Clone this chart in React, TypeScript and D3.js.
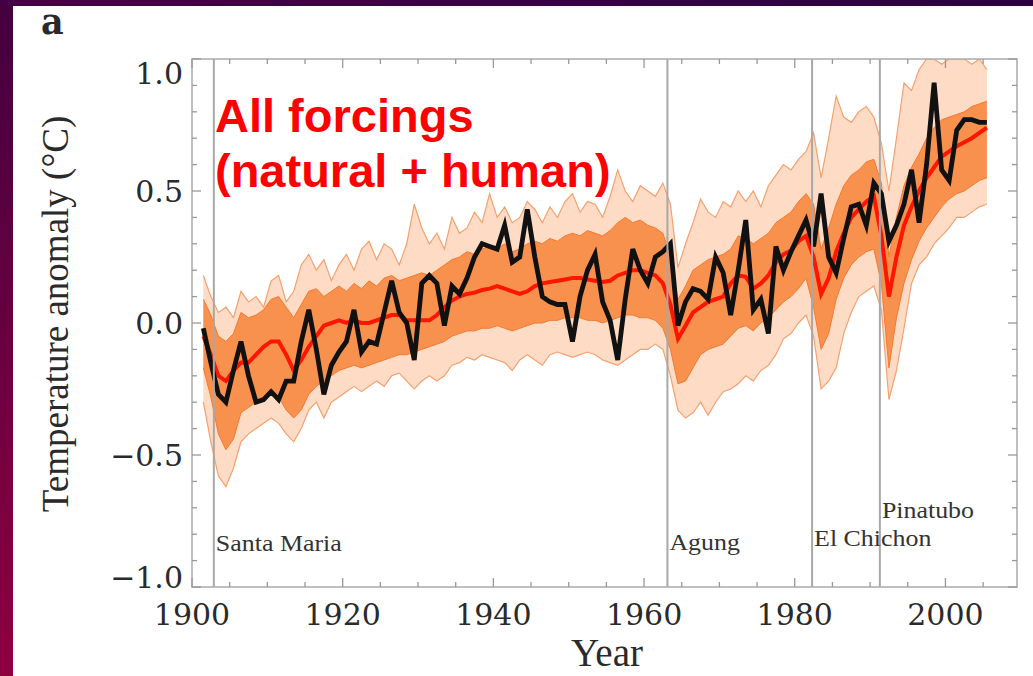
import React, { useEffect, useRef } from 'react';
import * as d3 from 'd3';

// annual values, 1901..2005
const years = d3.range(1901, 2006);

// observed anomaly (black)
const observed = [
  -0.02, -0.15, -0.27, -0.30, -0.18, -0.07, -0.20, -0.30, -0.29, -0.26,
  -0.29, -0.22, -0.22, -0.07, 0.05, -0.10, -0.27, -0.16, -0.11, -0.07,
  0.05, -0.11, -0.07, -0.08, 0.04, 0.16, 0.04, 0.00, -0.14, 0.15,
  0.18, 0.15, -0.01, 0.14, 0.11, 0.17, 0.25, 0.30, 0.29, 0.28,
  0.37, 0.23, 0.25, 0.43, 0.25, 0.10, 0.08, 0.07, 0.07, -0.07,
  0.10, 0.20, 0.26, 0.08, 0.01, -0.14, 0.09, 0.28, 0.20, 0.15,
  0.25, 0.27, 0.30, -0.01, 0.08, 0.13, 0.12, 0.09, 0.25, 0.19,
  0.03, 0.20, 0.39, 0.05, 0.09, -0.04, 0.29, 0.20, 0.27, 0.33,
  0.39, 0.29, 0.49, 0.25, 0.19, 0.32, 0.44, 0.45, 0.37, 0.53,
  0.49, 0.31, 0.37, 0.45, 0.58, 0.38, 0.60, 0.91, 0.58, 0.54,
  0.73, 0.77, 0.77, 0.76, 0.76,
];

// ensemble mean (red)
const modelMean = [
  -0.05, -0.12, -0.20, -0.22, -0.18, -0.15, -0.15, -0.12, -0.09, -0.07,
  -0.07, -0.12, -0.18, -0.14, -0.09, -0.05, -0.01, 0.00, 0.01, 0.00,
  0.01, 0.00, 0.00, 0.01, 0.02, 0.03, 0.03, 0.01, 0.01, 0.01,
  0.01, 0.03, 0.06, 0.085, 0.10, 0.11, 0.115, 0.125, 0.13, 0.14,
  0.13, 0.12, 0.11, 0.12, 0.14, 0.15, 0.155, 0.16, 0.165, 0.17,
  0.17, 0.165, 0.16, 0.155, 0.16, 0.18, 0.19, 0.20, 0.20, 0.19,
  0.18, 0.15, 0.07, -0.06, -0.01, 0.04, 0.06, 0.08, 0.09, 0.10,
  0.15, 0.18, 0.175, 0.13, 0.15, 0.18, 0.23, 0.26, 0.275, 0.31,
  0.33, 0.25, 0.11, 0.17, 0.27, 0.34, 0.40, 0.43, 0.46, 0.48,
  0.33, 0.10, 0.25, 0.37, 0.44, 0.50, 0.55, 0.59, 0.63, 0.65,
  0.67, 0.685, 0.70, 0.72, 0.74,
];

// pale outer strands of the ensemble
const spreadHigh = [
  0.18, 0.10, 0.04, 0.06, 0.02, 0.12, 0.08, 0.10, 0.06, 0.16,
  0.18, 0.08, 0.12, 0.22, 0.26, 0.20, 0.24, 0.16, 0.22, 0.26,
  0.20, 0.28, 0.31, 0.24, 0.30, 0.28, 0.22, 0.30, 0.45, 0.36,
  0.30, 0.34, 0.28, 0.40, 0.34, 0.36, 0.42, 0.38, 0.49, 0.40,
  0.44, 0.38, 0.40, 0.46, 0.43, 0.38, 0.44, 0.40, 0.46, 0.49,
  0.42, 0.46, 0.45, 0.40, 0.48, 0.58, 0.50, 0.46, 0.52, 0.50,
  0.48, 0.53, 0.45, 0.21, 0.30, 0.38, 0.47, 0.42, 0.40, 0.46,
  0.44, 0.50, 0.46, 0.50, 0.44, 0.52, 0.56, 0.60, 0.58, 0.62,
  0.65, 0.72, 0.55, 0.70, 0.86, 0.78, 0.76, 0.80, 0.82, 0.78,
  0.68, 0.50, 0.70, 0.91, 0.88, 0.96, 1.00, 1.00, 0.98, 1.00,
  1.00, 1.00, 0.98, 1.00, 0.96,
];
const spreadLow = [
  -0.30, -0.45, -0.58, -0.62, -0.55, -0.45, -0.42, -0.40, -0.38, -0.36,
  -0.38, -0.42, -0.45, -0.40, -0.33, -0.30, -0.36, -0.30, -0.28, -0.26,
  -0.24, -0.26, -0.24, -0.22, -0.24, -0.20, -0.19, -0.22, -0.25, -0.22,
  -0.20, -0.22, -0.20, -0.16, -0.15, -0.13, -0.14, -0.12, -0.13, -0.14,
  -0.15, -0.18, -0.14, -0.12, -0.14, -0.16, -0.12, -0.11, -0.12, -0.13,
  -0.12, -0.11, -0.12, -0.14, -0.15, -0.16, -0.14, -0.12, -0.10, -0.10,
  -0.08, -0.10, -0.20, -0.33, -0.36, -0.34, -0.30, -0.35, -0.30, -0.26,
  -0.25, -0.23, -0.20, -0.22, -0.18, -0.16, -0.12, -0.06, -0.04, 0.00,
  0.03, -0.05, -0.25, -0.22, -0.17, -0.04, 0.04, 0.10, 0.12, 0.14,
  0.05, -0.29, -0.18, -0.02, 0.15, 0.22, 0.25, 0.30, 0.33, 0.36,
  0.40, 0.40, 0.42, 0.44, 0.45,
];

// dense core of the ensemble
const coreHigh = [
  0.09, 0.03, -0.05, -0.07, -0.04, 0.04, 0.02, 0.03, 0.05, 0.09,
  0.10, 0.06, 0.02, 0.07, 0.12, 0.13, 0.10, 0.12, 0.14, 0.12,
  0.15, 0.13, 0.16, 0.14, 0.17, 0.18, 0.16, 0.17, 0.18, 0.19,
  0.18, 0.20, 0.22, 0.24, 0.25, 0.27, 0.26, 0.28, 0.29, 0.28,
  0.30, 0.27, 0.28, 0.30, 0.31, 0.30, 0.32, 0.31, 0.33, 0.34,
  0.33, 0.35, 0.34, 0.33, 0.35, 0.38, 0.40, 0.38, 0.39, 0.37,
  0.36, 0.34, 0.25, 0.09, 0.14, 0.20, 0.22, 0.24, 0.25, 0.26,
  0.28, 0.33, 0.32, 0.30, 0.32, 0.34, 0.38, 0.40, 0.42, 0.46,
  0.49, 0.45, 0.28, 0.36, 0.45, 0.52, 0.56, 0.58, 0.61, 0.62,
  0.53, 0.25, 0.40, 0.52, 0.59, 0.64, 0.70, 0.74, 0.77, 0.78,
  0.79, 0.80, 0.82, 0.83, 0.84,
];
const coreLow = [
  -0.17, -0.28, -0.42, -0.48, -0.44, -0.34, -0.32, -0.30, -0.28, -0.27,
  -0.28, -0.33, -0.36, -0.33, -0.27, -0.24, -0.22, -0.20, -0.18, -0.17,
  -0.16, -0.17, -0.16, -0.15, -0.14, -0.13, -0.12, -0.12, -0.11, -0.10,
  -0.09, -0.08, -0.07, -0.05, -0.04, -0.03, -0.03, -0.02, -0.02, -0.01,
  -0.02, -0.03, -0.02, -0.01, 0.00, 0.00, 0.01, 0.01, 0.02, 0.02,
  0.02, 0.01, 0.01, 0.00, 0.01, 0.02, 0.03, 0.03, 0.02, 0.02,
  0.01, -0.02, -0.10, -0.23, -0.22, -0.17, -0.12, -0.10, -0.09, -0.08,
  -0.05, -0.02, -0.01, -0.03, 0.00, 0.02, 0.05, 0.08, 0.10, 0.13,
  0.17, 0.06, -0.10, -0.04, 0.09, 0.17, 0.22, 0.25, 0.27, 0.28,
  0.15, -0.17, 0.02, 0.15, 0.24, 0.31, 0.36, 0.40, 0.44, 0.47,
  0.49, 0.50, 0.52, 0.54, 0.55,
];

const eruptionNames = ['Santa Maria', 'Agung', 'El Chichon', 'Pinatubo'];
const eruptionYears = [1902.9, 1963.1, 1982.3, 1991.3];

const xTickLabels = [1900, 1920, 1940, 1960, 1980, 2000];
const yTickLabels = [-1.0, -0.5, 0.0, 0.5, 1.0];

const W = 1033;
const H = 676;

const App = () => {
  const ref = useRef<SVGSVGElement>(null);

  useEffect(() => {
    const left = 192, right = 1017, top = 59, bottom = 587;
    const svg = d3.select(ref.current);
    svg.selectAll('*').remove();

    const x = d3.scaleLinear().domain([1900, 2009.5]).range([left, right]);
    const y = d3.scaleLinear().domain([-1, 1]).range([bottom, top]);
    const xs = (i: number) => x(years[i] + 0.5);

    const defs = svg.append('defs');
    const side = defs.append('linearGradient').attr('id', 'side')
      .attr('x1', 0).attr('y1', 0).attr('x2', 0).attr('y2', 1);
    side.append('stop').attr('offset', '0%').attr('stop-color', '#43003f');
    side.append('stop').attr('offset', '100%').attr('stop-color', '#8f003f');
    const topBar = defs.append('linearGradient').attr('id', 'topBar')
      .attr('x1', 0).attr('y1', 0).attr('x2', 1).attr('y2', 0);
    topBar.append('stop').attr('offset', '0%').attr('stop-color', '#460046');
    topBar.append('stop').attr('offset', '100%').attr('stop-color', '#2b003f');
    defs.append('clipPath').attr('id', 'plot')
      .append('rect').attr('x', left).attr('y', top)
      .attr('width', right - left).attr('height', bottom - top);

    // dark slide border + white panel
    svg.append('rect').attr('width', W).attr('height', H).attr('fill', 'url(#side)');
    svg.append('rect').attr('width', W).attr('height', 6).attr('fill', 'url(#topBar)');
    svg.append('rect').attr('x', 13).attr('y', 6).attr('width', W - 13).attr('height', H - 6).attr('fill', '#fff');

    const plot = svg.append('g').attr('clip-path', 'url(#plot)');

    // ensemble spread
    const band = (hi: number[], lo: number[]) => d3.area<number>()
      .x((d, i) => xs(i))
      .y0((d, i) => y(lo[i]))
      .y1(d => y(d))(hi);
    const line = d3.line<number>().x((d, i) => xs(i)).y(d => y(d));

    plot.append('path').attr('d', band(spreadHigh, spreadLow))
      .attr('fill', '#fbc39c').attr('opacity', 0.6);
    plot.append('path').attr('d', band(coreHigh, coreLow))
      .attr('fill', '#f7843a').attr('opacity', 0.85);
    [spreadHigh, spreadLow].forEach(s => {
      plot.append('path').attr('d', line(s)).attr('fill', 'none')
        .attr('stroke', '#f6a170').attr('stroke-width', 1.2);
    });
    [coreHigh, coreLow].forEach(s => {
      plot.append('path').attr('d', line(s)).attr('fill', 'none')
        .attr('stroke', '#f47a30').attr('stroke-width', 1);
    });

    // eruption markers
    eruptionYears.forEach(yr => {
      svg.append('line').attr('x1', x(yr)).attr('x2', x(yr))
        .attr('y1', top).attr('y2', bottom)
        .attr('stroke', '#a8a8a8').attr('stroke-width', 2);
    });

    plot.append('path').attr('d', line(modelMean)).attr('fill', 'none')
      .attr('stroke', '#ff1500').attr('stroke-width', 4);
    plot.append('path').attr('d', line(observed)).attr('fill', 'none')
      .attr('stroke', '#111').attr('stroke-width', 4.8);

    // frame and ticks
    svg.append('rect').attr('x', left).attr('y', top)
      .attr('width', right - left).attr('height', bottom - top)
      .attr('fill', 'none').attr('stroke', '#aaa').attr('stroke-width', 1.5);
    const tickG = svg.append('g').attr('stroke', '#999').attr('stroke-width', 1.3);
    d3.range(1900, 2009, 5).forEach(yr => {
      const len = yr % 20 === 0 ? 9 : 5;
      tickG.append('line').attr('x1', x(yr)).attr('x2', x(yr)).attr('y1', bottom).attr('y2', bottom - len);
      tickG.append('line').attr('x1', x(yr)).attr('x2', x(yr)).attr('y1', top).attr('y2', top + len);
    });
    d3.range(-10, 11).forEach(k => {
      const len = k % 5 === 0 ? 9 : 5;
      const yy = y(k / 10);
      tickG.append('line').attr('x1', left).attr('x2', left + len).attr('y1', yy).attr('y2', yy);
      tickG.append('line').attr('x1', right).attr('x2', right - len).attr('y1', yy).attr('y2', yy);
    });

    // tick labels
    const serif = 'DejaVu Serif, serif';
    xTickLabels.forEach(v => {
      svg.append('text').attr('x', x(v)).attr('y', 625)
        .attr('text-anchor', 'middle').attr('font-family', serif)
        .attr('font-size', 30).attr('fill', '#2a2a2a').text(String(v));
    });
    yTickLabels.forEach(v => {
      const shift = v === 1 ? 14 : v === -1 ? -10 : 0;
      const txt = (v < 0 ? '\u2212' : '') + Math.abs(v).toFixed(1);
      svg.append('text').attr('x', 183).attr('y', y(v) + shift + 11)
        .attr('text-anchor', 'end').attr('font-family', serif)
        .attr('font-size', 30).attr('fill', '#2a2a2a').text(txt);
    });

    // eruption names
    const labelY = [551, 550, 546, 518];
    eruptionNames.forEach((name, i) => {
      svg.append('text')
        .attr('transform', `translate(${x(eruptionYears[i]) + 2},${labelY[i]}) scale(1.08,1)`)
        .attr('font-family', 'Liberation Serif, Times New Roman, serif')
        .attr('font-size', 24).attr('fill', '#333').text(name);
    });

    // axis titles
    svg.append('text').attr('x', 607).attr('y', 666).attr('text-anchor', 'middle')
      .attr('font-family', 'Liberation Serif, Times New Roman, serif')
      .attr('font-size', 39).attr('fill', '#2a2a2a').text('Year');
    svg.append('text').attr('transform', 'translate(68,314) rotate(-90)')
      .attr('text-anchor', 'middle')
      .attr('font-family', 'Liberation Serif, Times New Roman, serif')
      .attr('font-size', 37).attr('fill', '#2a2a2a').text('Temperature anomaly (°C)');
    svg.append('text').attr('x', 41).attr('y', 34)
      .attr('font-family', serif).attr('font-weight', 'bold')
      .attr('font-size', 35).attr('fill', '#2a2a2a').text('a');

    // panel title
    const title = svg.append('text').attr('font-family', 'Liberation Sans, Arial, sans-serif')
      .attr('font-weight', 'bold').attr('font-size', 47).attr('fill', '#ff0000');
    title.append('tspan').attr('x', 215).attr('y', 132).text('All forcings');
    title.append('tspan').attr('x', 215).attr('y', 187).text('(natural + human)');
  }, []);

  return (
    <svg ref={ref} width={W} height={H}
      style={{ position: 'absolute', left: 0, top: 0, display: 'block' }} />
  );
};

export default App;
